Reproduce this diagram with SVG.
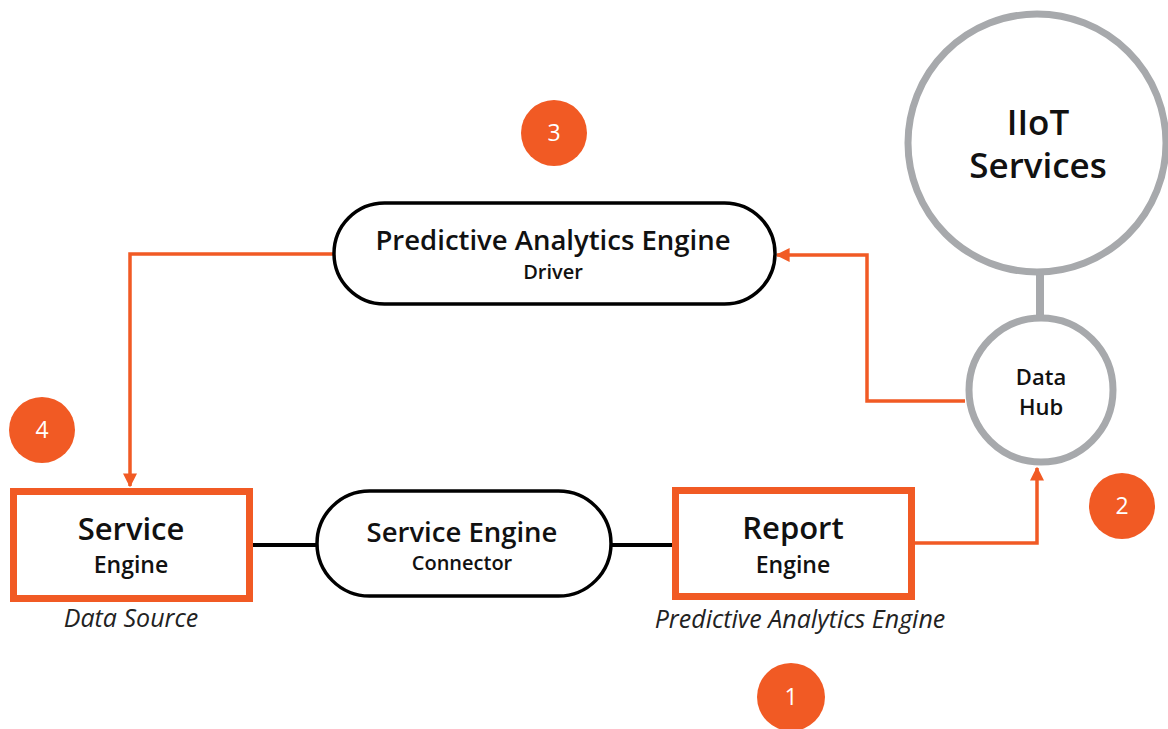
<svg xmlns="http://www.w3.org/2000/svg" width="1168" height="729" viewBox="0 0 1168 729">
<style>
text{font-family:"Open Sans","Noto Sans",sans-serif;fill:#111;text-anchor:middle}
.t1{font-size:27.5px;font-weight:600}
.t2{font-size:20px;font-weight:600}
.it{font-size:25px;font-style:italic;fill:#222}
.pill{fill:#fff;stroke:#000;stroke-width:3.5}
.box{fill:#fff;stroke:#F15A24;stroke-width:7}
.gc{fill:#fff;stroke:#A7A9AC;stroke-width:7}
.badge{fill:#F15A24}
.bn{font-size:23px;font-weight:500;fill:#fff}
.ol{fill:none;stroke:#F15A24;stroke-width:3.5}
.bl{fill:none;stroke:#000;stroke-width:4}
</style>
<defs>
<marker id="ah" viewBox="0 0 10 10" refX="9" refY="5" markerWidth="4" markerHeight="4" orient="auto" markerUnits="strokeWidth">
<path d="M0,0 L10,5 L0,10 z" fill="#F15A24"/>
</marker>
</defs>
<g id="connectors">
<line x1="1040" y1="275" x2="1040" y2="318" stroke="#A7A9AC" stroke-width="8"/>
<path class="ol" d="M334,254 H130 V486" marker-end="url(#ah)"/>
<path class="ol" d="M965,401 H867 V255 H777" marker-end="url(#ah)"/>
<path class="ol" d="M915,543 H1037 V468" marker-end="url(#ah)"/>
<line class="bl" x1="253" y1="545" x2="318" y2="545"/>
<line class="bl" x1="610" y1="545" x2="672" y2="545"/>
</g>
<g id="iiot">
<circle class="gc" cx="1037" cy="143" r="129"/>
<text x="1038" y="135" style="font-size:35px;font-weight:600">IIoT</text>
<text x="1038" y="178" style="font-size:35px;font-weight:600">Services</text>
</g>
<g id="datahub">
<circle class="gc" cx="1041" cy="390" r="72"/>
<text x="1041" y="385" style="font-size:22px;font-weight:600">Data</text>
<text x="1041" y="415" style="font-size:22px;font-weight:600">Hub</text>
</g>
<g id="pae-driver">
<rect class="pill" x="334" y="203" width="441" height="101" rx="50.5"/>
<text class="t1" x="553" y="250">Predictive Analytics Engine</text>
<text class="t2" x="553" y="279">Driver</text>
</g>
<g id="service-engine">
<rect class="box" x="13.5" y="491.5" width="236" height="107"/>
<text x="131" y="540" style="font-size:31px;font-weight:600">Service</text>
<text x="131" y="573" style="font-size:23px;font-weight:600">Engine</text>
<text class="it" x="131" y="627">Data Source</text>
</g>
<g id="connector">
<rect class="pill" x="317" y="491" width="294" height="105" rx="52.5"/>
<text class="t1" x="462" y="542">Service Engine</text>
<text class="t2" x="462" y="570">Connector</text>
</g>
<g id="report-engine">
<rect class="box" x="675.5" y="490.5" width="236" height="106"/>
<text x="793" y="539" style="font-size:31px;font-weight:600">Report</text>
<text x="793" y="573" style="font-size:23px;font-weight:600">Engine</text>
<text class="it" x="800" y="628">Predictive Analytics Engine</text>
</g>
<g id="badge3"><circle class="badge" cx="554" cy="133" r="33"/><text class="bn" x="554" y="141">3</text></g>
<g id="badge4"><circle class="badge" cx="42" cy="430" r="33"/><text class="bn" x="42" y="438">4</text></g>
<g id="badge2"><circle class="badge" cx="1122" cy="506" r="33"/><text class="bn" x="1122" y="514">2</text></g>
<g id="badge1"><circle class="badge" cx="791" cy="697" r="34"/><text class="bn" x="791" y="705">1</text></g>
</svg>
